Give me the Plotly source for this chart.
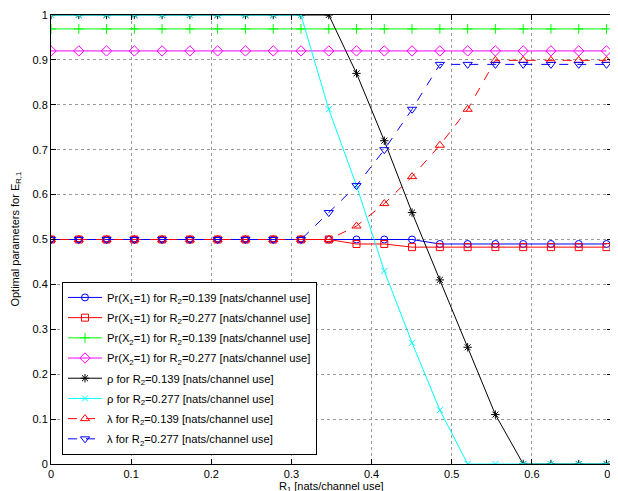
import plotly.graph_objects as go

# R1 values [nats/channel use]
r1 = [0.0, 0.0347, 0.0693, 0.1040, 0.1386, 0.1733, 0.2079, 0.2426, 0.2773, 0.3119,
      0.3466, 0.3812, 0.4159, 0.4505, 0.4852, 0.5199, 0.5545, 0.5892, 0.6238, 0.6585, 0.6931]

pr_x1_r2_139 = [0.5]*14 + [0.49]*7
pr_x1_r2_277 = [0.5]*11 + [0.49, 0.49] + [0.483]*8
pr_x2_r2_139 = [0.969]*21
pr_x2_r2_277 = [0.92]*21
rho_r2_139 = [1.0]*11 + [0.87, 0.72, 0.56, 0.41, 0.26, 0.11] + [0.0]*4
rho_r2_277 = [1.0]*10 + [0.79, 0.62, 0.43, 0.27, 0.12] + [0.0]*6
lam_r2_139 = [0.5]*11 + [0.53, 0.58, 0.64, 0.71, 0.79] + [0.899]*5
lam_r2_277 = [0.5]*10 + [0.56, 0.62, 0.70, 0.79] + [0.89]*7

x_ticks = [0, 0.1, 0.2, 0.3, 0.4, 0.5, 0.6, 0.7]
x_tick_labels = ["0", "0.1", "0.2", "0.3", "0.4", "0.5", "0.6", "0.7"]
y_ticks = [0, 0.1, 0.2, 0.3, 0.4, 0.5, 0.6, 0.7, 0.8, 0.9, 1]
y_tick_labels = ["0", "0.1", "0.2", "0.3", "0.4", "0.5", "0.6", "0.7", "0.8", "0.9", "1"]

series = [
    ("Pr(X<sub>1</sub>=1) for R<sub>2</sub>=0.139 [nats/channel use]", pr_x1_r2_139, "#0000FF", "circle-open", "solid", 7),
    ("Pr(X<sub>1</sub>=1) for R<sub>2</sub>=0.277 [nats/channel use]", pr_x1_r2_277, "#FF0000", "square-open", "solid", 7),
    ("Pr(X<sub>2</sub>=1) for R<sub>2</sub>=0.139 [nats/channel use]", pr_x2_r2_139, "#00FF00", "cross-thin-open", "solid", 7),
    ("Pr(X<sub>2</sub>=1) for R<sub>2</sub>=0.277 [nats/channel use]", pr_x2_r2_277, "#FF00FF", "diamond-open", "solid", 8),
    ("ρ for R<sub>2</sub>=0.139 [nats/channel use]", rho_r2_139, "#000000", "asterisk-open", "solid", 7),
    ("ρ for R<sub>2</sub>=0.277 [nats/channel use]", rho_r2_277, "#00FFFF", "x-thin-open", "solid", 6),
    ("λ for R<sub>2</sub>=0.139 [nats/channel use]", lam_r2_139, "#FF0000", "triangle-up-open", "dash", 8),
    ("λ for R<sub>2</sub>=0.277 [nats/channel use]", lam_r2_277, "#0000FF", "triangle-down-open", "dash", 8),
]

fig = go.Figure()
for i, (name, ys, color, sym, dash, size) in enumerate(series):
    fig.add_trace(go.Scatter(
        x=r1, y=ys, name=name, mode="lines+markers", legendgroup=f"g{i}",
        line=dict(color=color, width=1, dash=dash),
        marker=dict(symbol=sym, size=size, color=color, line=dict(color=color, width=1)),
    ))

axis_common = dict(
    showline=True, linecolor="black", linewidth=1, mirror="ticks",
    ticks="inside", ticklen=5, tickcolor="black", ticklabeloverflow="allow",
    showgrid=True, gridcolor="#9a9a9a", griddash="dot", gridwidth=1,
    zeroline=False, tickfont=dict(family="Liberation Sans, Arial", size=11, color="black"),
)

fig.update_xaxes(range=[0, 0.7], tickvals=x_ticks, ticktext=x_tick_labels, **axis_common)
fig.update_yaxes(range=[0, 1], tickvals=y_ticks, ticktext=y_tick_labels, **axis_common)

fig.update_layout(
    width=618, height=483,
    margin=dict(l=43, r=14, t=7, b=27, autoexpand=False),
    plot_bgcolor="white", paper_bgcolor="white",
    font=dict(family="Liberation Sans, Arial", size=11, color="black"),
    showlegend=True,
    legend=dict(
        x=0.0196, y=0.4055, xanchor="left", yanchor="top",
        bgcolor="white", bordercolor="black", borderwidth=1,
        font=dict(family="Liberation Sans, Arial", size=11.2, color="black"),
        tracegroupgap=1.2, itemwidth=34,
    ),
    annotations=[
        dict(text="R<sub>1</sub> [nats/channel use]", xref="paper", yref="paper",
             x=0.5, y=-0.051, xanchor="center", yanchor="middle", showarrow=False,
             font=dict(size=11)),
        dict(text="Optimal parameters for E<sub>R,1</sub>", xref="paper", yref="paper",
             x=-0.064, y=0.5, xanchor="center", yanchor="middle", textangle=-90,
             showarrow=False, font=dict(size=11)),
    ],
)

fig.write_html("out.html")
